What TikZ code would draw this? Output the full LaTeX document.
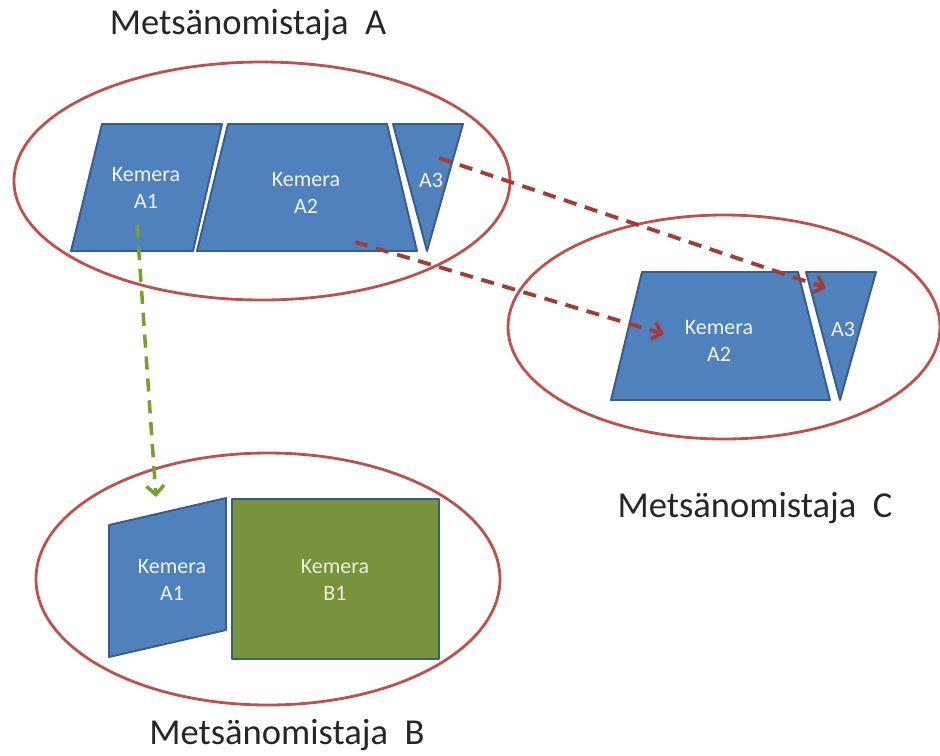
\documentclass[tikz,border=0pt]{standalone}
\usepackage{fontspec}
\setmainfont{Carlito}
\usetikzlibrary{arrows.meta}
\definecolor{cblue}{HTML}{4F81BD}
\definecolor{cblueb}{HTML}{385D8A}
\definecolor{cgreen}{HTML}{77933C}
\definecolor{cred}{HTML}{C0504D}
\definecolor{cdred}{HTML}{A33B37}
\definecolor{cdgreen}{HTML}{78A02E}
\definecolor{ctext}{HTML}{F2F4F8}
\definecolor{ctextg}{HTML}{EEF0D8}
\tikzset{
  owner/.style={draw=cred, line width=1.6pt},
  cam/.style={fill=cblue, draw=cblueb, line width=1.1pt, line join=round},
  camg/.style={fill=cgreen, draw=cblueb, line width=1.1pt, line join=round},
  lbl/.style={text=ctext, font=\fontsize{12.5}{15.5}\selectfont, align=center, inner sep=0pt},
  lblg/.style={lbl, text=ctextg},
  title/.style={font=\fontsize{20.8}{24}\selectfont, text=black!85, inner sep=0pt},
  redarr/.style={draw=cdred, line width=2.2pt, dash pattern=on 7.5pt off 5pt, -{Straight Barb[length=5pt,width=10pt,line width=2pt]}},
  greenarr/.style={draw=cdgreen, line width=2pt, dash pattern=on 7.5pt off 5pt, -{Straight Barb[length=5pt,width=10pt,line width=2pt]}}
}
\begin{document}
\begin{tikzpicture}[x=0.02cm, y=-0.02cm]
\useasboundingbox (0,0) rectangle (940,755);
% owners
\draw[owner] (262,181) ellipse [x radius=248, y radius=119];
\draw[owner] (724,327) ellipse [x radius=216, y radius=112];
\draw[owner] (268,579) ellipse [x radius=232, y radius=126];
% owner A cameras
\path[cam] (102,124) -- (222,124) -- (193,251) -- (71,251) -- cycle;
\path[cam] (228,124) -- (387,124) -- (417,251) -- (197,251) -- cycle;
\path[cam] (393,124) -- (463,124) -- (427,251) -- cycle;
\node[lbl] (a1) at (146,188) {Kemera\\A1};
\node[lbl] (a2) at (306,193) {Kemera\\A2};
\node[lbl] (a3) at (431,180) {A3};
% owner C cameras
\path[cam] (642,272) -- (798,272) -- (830,400) -- (611,400) -- cycle;
\path[cam] (806,272) -- (876,272) -- (840,400) -- cycle;
\node[lbl] (ca2) at (719,341) {Kemera\\A2};
\node[lbl] (ca3) at (843,329) {A3};
% owner B cameras
\path[cam] (109,525) -- (226,498) -- (226,630) -- (109,657) -- cycle;
\path[camg] (232,499) rectangle (439,659);
\node[lbl] (ba1) at (172,580) {Kemera\\A1};
\node[lblg] (bb1) at (335,580) {Kemera\\B1};
% titles
\node[title] (tA) at (248,25) {Metsänomistaja\ \ A};
\node[title] (tC) at (755,508) {Metsänomistaja\ \ C};
\node[title] (tB) at (287,735) {Metsänomistaja\ \ B};
% arrow end points
\coordinate (s1) at (439,158);
\coordinate (e1) at (826,288);
\coordinate (s2) at (355,242);
\coordinate (e2) at (664,334);
\coordinate (s3) at (137,225);
\coordinate (e3) at (156,497);
\draw[redarr] (s1) -- (e1);
\draw[redarr] (s2) -- (e2);
\draw[greenarr] (s3) -- (e3);
\end{tikzpicture}
\end{document}
